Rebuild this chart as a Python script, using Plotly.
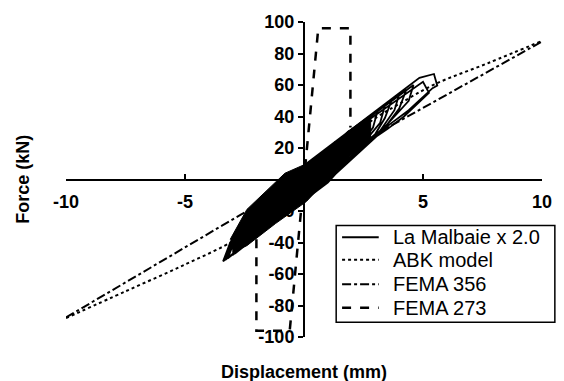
import plotly.graph_objects as go

# ---- data ----
# La Malbaie x 2.0 hysteresis path (mm, kN); one line per cycle, x and y aligned
malbaie_x = [0, 1.3, 1.1, 0, -1.3, -1.0, 0,
             1.9, 1.7, 1.2, 0, -1.8, -1.5, 0,
             2.5, 2.3, 1.8, 0.2, -2.2, -1.9, 0,
             3.1, 2.9, 2.4, 0.4, -2.6, -2.3, 0,
             3.4, 3.2, 2.6, 1.0, -2.7, -2.5, 0,
             3.7, 3.4, 3.0, 0.6, -2.9, -2.6, 0,
             4.0, 3.8, 3.2, 1.2, -3.0, -2.8, 0,
             4.3, 4.0, 3.5, 0.8, -3.2, -2.9, 0,
             4.6, 4.4, 3.8, 3.0, 1.0, -3.3, -3.0, 0,
             4.85, 5.46, 5.6, 5.4, 4.4, 3.6, 1.0, -3.4, -3.1, 0,
             5.0, 5.25, 4.2, 3.5, 0]
malbaie_y = [0, 24, 14, -10, -27, -16, 6,
             31, 21, 12, -11, -33, -22, 7,
             37, 27, 18, -9, -38, -27, 7,
             44, 33, 23, -7, -43, -31, 8,
             47, 36, 25, -2, -44, -33, 8,
             51, 39, 29, -5, -47, -35, 8,
             54, 44, 31, 2, -48, -36, 9,
             57, 45, 35, -3, -50, -38, 9,
             60, 50, 40, 27, 3, -51, -39, 9,
             64.6, 67, 59.6, 58, 44, 35, -1, -52, -40, 9,
             62, 55, 40, 32, -4]

# dense (solid black) core of the hysteresis band
core_x = [-3.1, -2.4, -0.8, 0.1, 1.4, 1.8, 2.8, 2.8, 1.8, 1.4, 0.1, -1.2, -2.4, -3.0]
core_y = [-38, -19, 4, 10, 24, 30, 41, 26, 13, 7, -14, -28, -42, -46]

abk_x = [-10, -7.5, -5, -2.9, -2, -1, 0, 1, 2, 3, 4, 5.5, 7.75, 10]
abk_y = [-88, -71, -54, -38.5, -29, -16, 0, 16, 28, 39, 48, 60.5, 74, 88]

fema356_x = [-10, -2.67, 0, 3.58, 10]
fema356_y = [-87.6, -22.4, 0, 33.5, 87.6]

fema273_x = [-2.0, -2.0, -0.6, 0.0, 0.6, 1.95, 1.95]
fema273_y = [-38, -96, -96, 0, 96, 96, 33]

x_ticks = [-10, -5, 5, 10]
y_ticks = [-100, -80, -60, -40, -20, 20, 40, 60, 80, 100]

legend_names = ["La Malbaie x 2.0", "ABK model", "FEMA 356", "FEMA 273"]
legend_dash = ["solid", "dot", "dashdot", "dash"]
legend_width = [2, 2, 2, 2.5]

FONT = "Liberation Sans, Arial, sans-serif"

fig = go.Figure()

fig.add_trace(go.Scatter(x=core_x, y=core_y, mode="lines", fill="toself",
                         fillcolor="black", line=dict(color="black", width=1),
                         showlegend=False, hoverinfo="skip"))
fig.add_trace(go.Scatter(x=malbaie_x, y=malbaie_y, mode="lines",
                         name=legend_names[0], showlegend=False,
                         line=dict(color="black", width=1.8)))
fig.add_trace(go.Scatter(x=abk_x, y=abk_y, mode="lines", name=legend_names[1],
                         showlegend=False,
                         line=dict(color="black", width=2, dash="dot", shape="spline")))
fig.add_trace(go.Scatter(x=fema356_x, y=fema356_y, mode="lines", name=legend_names[2],
                         showlegend=False,
                         line=dict(color="black", width=2, dash="dashdot")))
fig.add_trace(go.Scatter(x=fema273_x, y=fema273_y, mode="lines", name=legend_names[3],
                         showlegend=False,
                         line=dict(color="black", width=2.5, dash="dash")))

fig.update_layout(
    width=564, height=381,
    margin=dict(l=66, r=17, t=15, b=44),
    paper_bgcolor="white", plot_bgcolor="white",
    font=dict(family=FONT, color="black"),
    xaxis=dict(range=[-10, 10], anchor="free", position=0.5,
               showgrid=False, zeroline=False,
               showline=True, linecolor="black", linewidth=2,
               tickvals=x_ticks, ticktext=[str(v) for v in x_ticks],
               ticks="inside", ticklen=5, tickwidth=1.5, tickcolor="black",
               ticklabelstandoff=6,
               tickfont=dict(family=FONT, size=18, color="black", weight="bold")),
    yaxis=dict(range=[-100, 100], anchor="free", position=0.5,
               showgrid=False, zeroline=False,
               showline=True, linecolor="black", linewidth=2,
               tickvals=y_ticks, ticktext=[str(v) for v in y_ticks],
               ticks="outside", ticklen=5, tickwidth=1.5, tickcolor="black",
               tickfont=dict(family=FONT, size=18, color="black", weight="bold")),
    showlegend=False,
)

# manual legend box (layout styling)
box_x0, box_x1, box_y0, box_y1 = 0.5676, 1.027, 0.0466, 0.354
row_y = [0.3168, 0.2453, 0.1677, 0.0932]
fig.add_shape(type="rect", xref="paper", yref="paper",
              x0=box_x0, x1=box_x1, y0=box_y0, y1=box_y1,
              line=dict(color="black", width=1.5), fillcolor="white", layer="above")
for name, dash, w, ry in zip(legend_names, legend_dash, legend_width, row_y):
    fig.add_shape(type="line", xref="paper", yref="paper",
                  x0=0.580, x1=0.657, y0=ry, y1=ry, layer="above",
                  line=dict(color="black", width=w, dash=dash))
    fig.add_annotation(text=name, xref="paper", yref="paper",
                       x=0.682, y=ry, xanchor="left", yanchor="middle",
                       showarrow=False,
                       font=dict(family=FONT, size=20, color="black"))

fig.add_annotation(text="<b>Displacement (mm)</b>", xref="paper", yref="paper",
                   x=0.5, y=-0.11, xanchor="center", yanchor="middle",
                   showarrow=False, font=dict(family=FONT, size=18, color="black"))
fig.add_annotation(text="<b>Force (kN)</b>", xref="paper", yref="paper",
                   x=-0.092, y=0.5, xanchor="center", yanchor="middle", textangle=-90,
                   showarrow=False, font=dict(family=FONT, size=18, color="black"))

fig.write_html("out.html")
